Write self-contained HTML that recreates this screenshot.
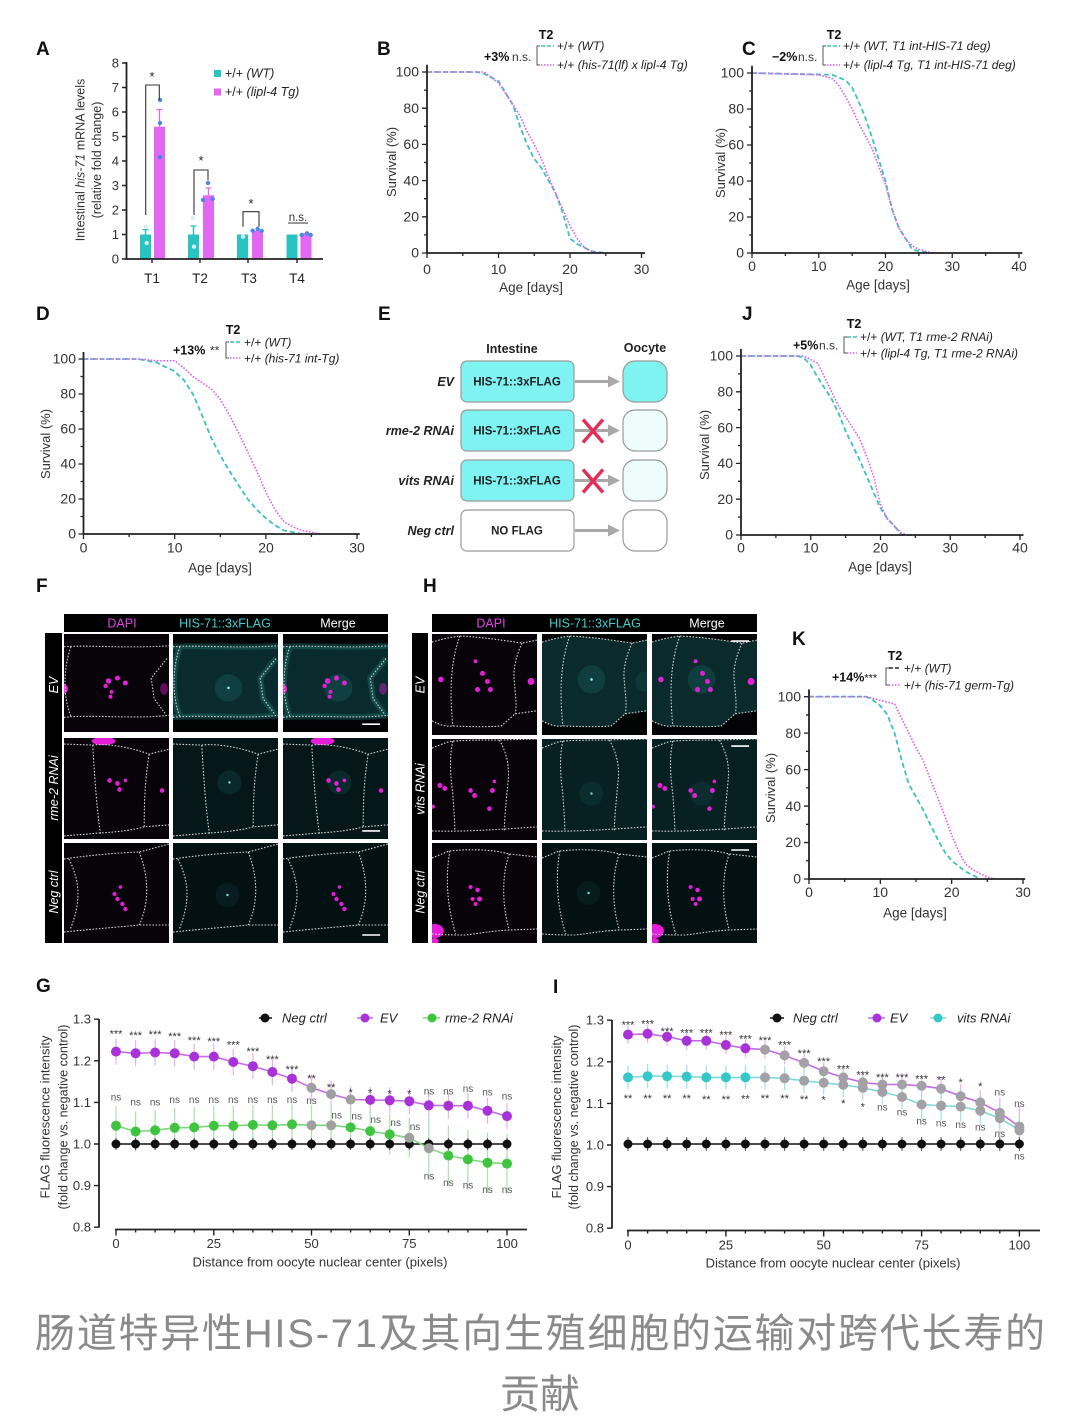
<!DOCTYPE html>
<html><head><meta charset="utf-8">
<style>
html,body{margin:0;padding:0;background:#fff;}
svg{display:block;}
.ol{fill:none;stroke:#d4d4d4;stroke-width:1.1;stroke-dasharray:1.6 1.6;}
.lbl{font-size:19px;font-weight:bold;fill:#111;}
</style></head><body>
<svg width="1080" height="1428" viewBox="0 0 1080 1428" xmlns="http://www.w3.org/2000/svg" xmlns:xlink="http://www.w3.org/1999/xlink" font-family="Liberation Sans, sans-serif">
<defs>
<path id="fEVb" d="M0,13 C25,11 60,15 106,12 L106,83 C70,87 30,82 0,85 Z"/>
<path id="fEVo" d="M0,13 C25,11 60,15 106,12 M0,85 C30,82 70,87 106,83 M7,13 C-1,35 -1,65 7,84 M104,25 L88,45 L91,66 L102,81"/>
<g id="fEVs"><circle cx="45" cy="48" r="2.8"/><circle cx="54" cy="45" r="2.5"/><circle cx="62" cy="50" r="2.5"/><circle cx="42" cy="53" r="2.2"/><circle cx="48" cy="59" r="2"/><circle cx="47" cy="64" r="2"/><ellipse cx="0" cy="56" rx="4" ry="5"/><ellipse cx="101" cy="56" rx="4" ry="6" opacity="0.4"/></g>
<path id="fRMo" d="M0,6 L29,7 C45,5 70,10 86,16 L106,11 M29,7 C31,40 33,70 37,96 M0,97 L37,94 C55,93 70,91 81,88 L106,86 M86,16 C82,40 81,60 81,88"/>
<g id="fRMs"><circle cx="46" cy="42" r="2.3"/><circle cx="54" cy="45" r="2.3"/><circle cx="62" cy="42" r="1.8"/><circle cx="56" cy="51" r="2.3"/><circle cx="99" cy="52" r="2.3"/><ellipse cx="40" cy="3" rx="12" ry="4"/></g>
<path id="fNGo" d="M0,16 C20,13 50,10 76,9 L106,1 M5,16 C17,40 17,60 6,87 M0,89 C30,86 55,84 76,82 L106,82 M76,9 C86,35 86,60 76,82"/>
<g id="fNGs"><circle cx="51" cy="51" r="2"/><circle cx="54" cy="56" r="2.2"/><circle cx="57" cy="44" r="1.8"/><circle cx="59" cy="61" r="2.2"/><circle cx="62" cy="66" r="2.2"/></g>
<path id="hEVb" d="M0,8 C10,5 20,3 28,2 C50,3 70,6 91,9 L106,6 L106,76 L84,79 L70,91 C60,92 40,92 21,91 C14,92 8,90 0,86 Z"/>
<path id="hEVo" d="M0,8 C10,5 20,3 28,2 C50,3 70,6 91,9 L106,6 M28,2 C20,25 17,50 21,91 M0,86 C8,90 14,92 21,91 C40,92 60,92 70,91 L84,79 L106,76 M91,9 C83,25 82,40 83,45 C84,60 86,70 84,79"/>
<g id="hEVs"><circle cx="44" cy="27" r="2"/><circle cx="51" cy="39" r="2.5"/><circle cx="56" cy="47" r="2.5"/><circle cx="46" cy="55" r="2.5"/><circle cx="59" cy="55" r="2.5"/><circle cx="9" cy="45" r="2.8"/><circle cx="100" cy="47" r="3.5"/></g>
<path id="hVTo" d="M0,9 C10,5 18,2 21,2 C40,1 55,1 68,1 L106,0 M21,2 C17,20 19,40 21,54 C22,70 23,80 23,91 M0,91 C30,92 60,90 106,87 M68,1 C76,15 78,27 77,40 C75,60 73,80 73,91"/>
<g id="hVTs"><circle cx="8" cy="46" r="2.5"/><circle cx="13" cy="49" r="2.5"/><circle cx="39" cy="51" r="2.3"/><circle cx="43" cy="56" r="2.5"/><circle cx="61" cy="51" r="2.5"/><circle cx="58" cy="69" r="2.3"/><circle cx="63" cy="42" r="1.8"/><circle cx="1" cy="67" r="2"/></g>
<path id="hNGo" d="M0,15 C8,12 14,9 18,8 C35,6 60,6 78,11 L106,14 M18,8 C14,30 14,60 24,91 M0,91 C15,92 24,92 34,92 C50,90 60,88 78,87 L106,86 M78,11 C71,30 70,60 78,87"/>
<g id="hNGs"><circle cx="39" cy="44" r="2"/><circle cx="46" cy="47" r="2.3"/><circle cx="48" cy="56" r="2.5"/><circle cx="44" cy="61" r="2"/><circle cx="41" cy="56" r="2"/><ellipse cx="3" cy="88" rx="9" ry="7"/><ellipse cx="2" cy="98" rx="5" ry="3"/></g>
</defs>

<!-- ================= A ================= -->
<text x="36" y="55" class="lbl">A</text>
<g fill="#27c4c1">
<rect x="140" y="234.5" width="11" height="24.5"/><rect x="188" y="234.5" width="11" height="24.5"/><rect x="237" y="234.5" width="11" height="24.5"/><rect x="286.5" y="234.5" width="11" height="24.5"/>
</g>
<g fill="#e267f2">
<rect x="154" y="126.7" width="11" height="132.3"/><rect x="203" y="195.3" width="11" height="63.7"/><rect x="252" y="230.8" width="11" height="28.2"/><rect x="300.5" y="233.3" width="11" height="25.7"/>
</g>
<path d="M159.5,126.7V109.5M156.5,109.5h6M208.5,195.3V188M205.5,188h6M145.5,234.5V229.6M193.5,234.5V226" stroke="#e267f2" stroke-width="1.3" fill="none"/>
<path d="M145.5,234.5V229.6M142.5,229.6h6M193.5,234.5V226M190.5,226h6" stroke="#27c4c1" stroke-width="1.3" fill="none"/>
<g fill="#4d86e8"><circle cx="160" cy="100" r="2.2"/><circle cx="160" cy="123" r="2.2"/><circle cx="160" cy="157" r="2.2"/><circle cx="203" cy="200" r="2.2"/><circle cx="208" cy="183" r="2.2"/><circle cx="212.7" cy="199" r="2.2"/><circle cx="252.7" cy="230.7" r="2.2"/><circle cx="257.7" cy="229" r="2.2"/><circle cx="261.7" cy="231" r="2.2"/><circle cx="301.7" cy="235" r="2.2"/><circle cx="307" cy="233.3" r="2.2"/><circle cx="310.7" cy="235" r="2.2"/></g>
<g fill="#d8eeee"><circle cx="145.7" cy="226.7" r="2.2"/><circle cx="146.7" cy="243" r="2.2"/><circle cx="193" cy="218" r="2.2"/><circle cx="194" cy="246.7" r="2.2"/><circle cx="243" cy="236.7" r="2.2"/></g>
<path d="M145.7,215V85H159.3V100M194,215V170H208V180M243,226.7V211.7H259V226.7M288,223H308" stroke="#333" stroke-width="1.1" fill="none"/>
<g font-size="13" text-anchor="middle" fill="#222"><text x="152" y="81">*</text><text x="201" y="165">*</text><text x="251" y="208">*</text></g>
<text x="298" y="221" font-size="11.5" text-anchor="middle" fill="#333">n.s.</text>
<path d="M126.5,62V259H323" stroke="#222" stroke-width="1.8" fill="none"/>
<path d="M122,259h4.5M122,234.5h4.5M122,210h4.5M122,185.5h4.5M122,161h4.5M122,136.5h4.5M122,112h4.5M122,87.5h4.5M122,63h4.5M152,259v4M200,259v4M248,259v4M297,259v4" stroke="#222" stroke-width="1.4"/>
<g font-size="13" text-anchor="end" fill="#333"><text x="119" y="263.5">0</text><text x="119" y="239">1</text><text x="119" y="214.5">2</text><text x="119" y="190">3</text><text x="119" y="165.5">4</text><text x="119" y="141">5</text><text x="119" y="116.5">6</text><text x="119" y="92">7</text><text x="119" y="67.5">8</text></g>
<g font-size="13.5" text-anchor="middle" fill="#222"><text x="152" y="283">T1</text><text x="200" y="283">T2</text><text x="249" y="283">T3</text><text x="297" y="283">T4</text></g>
<rect x="214" y="70" width="7" height="7" fill="#27c4c1"/><rect x="214" y="88.5" width="7" height="7" fill="#e267f2"/>
<text x="225" y="77.5" font-size="12.5" fill="#222">+/+ <tspan font-style="italic">(WT)</tspan></text>
<text x="225" y="96" font-size="12.5" fill="#222">+/+ <tspan font-style="italic">(lipl-4 Tg)</tspan></text>
<text transform="translate(84.5,160) rotate(-90)" font-size="12.5" text-anchor="middle" fill="#333">Intestinal <tspan font-style="italic">his-71</tspan> mRNA levels</text>
<text transform="translate(101,160) rotate(-90)" font-size="12.5" text-anchor="middle" fill="#333">(relative fold change)</text>

<!-- ================= B ================= -->
<text x="377" y="55" class="lbl">B</text>
<text x="546" y="39" font-size="12.5" font-weight="bold" text-anchor="middle" fill="#111">T2</text>
<text x="484" y="61" font-size="12.5" font-weight="bold" fill="#111">+3%</text>
<text x="512" y="61" font-size="12" fill="#333">n.s.</text>
<path d="M540,46H537V65H540" stroke="#555" fill="none" stroke-width="1"/>
<path d="M541,46H554" stroke="#3cc3bf" stroke-dasharray="4 2" stroke-width="1.6"/>
<path d="M541,65H554" stroke="#dc5ef0" stroke-dasharray="1.5 1.5" stroke-width="1.6"/>
<text x="557" y="50" font-size="12" fill="#222">+/+ <tspan font-style="italic">(WT)</tspan></text>
<text x="557" y="69" font-size="12" fill="#222">+/+ <tspan font-style="italic">(his-71(lf) x lipl-4 Tg)</tspan></text>
<g transform="translate(427,253) scale(7.15,-1.81)" fill="none">
<polyline vector-effect="non-scaling-stroke" stroke="#3cc3bf" stroke-width="1.8" stroke-dasharray="5 3" points="0,100 7,100 8,99 10,95 12,82 13,70 14,60 15,52 16,47 17,40 18,33 19,22 20,8 21,5 22,3 23,1 24,0.5 25,0"/>
<polyline vector-effect="non-scaling-stroke" stroke="#dc5ef0" stroke-width="1.6" stroke-dasharray="1.6 1.6" points="0,100 8,100 10,94 12,82 13,76 14,67 15,60 16,52 17,42 18,33 19,24 20,15 21,8 22,3 23,1 24,0"/>
<path vector-effect="non-scaling-stroke" stroke="#222" stroke-width="1.8" d="M0,104V0H30.5"/>
<path vector-effect="non-scaling-stroke" stroke="#222" stroke-width="1.3" d="M0,0h-0.7M0,20h-0.7M0,40h-0.7M0,60h-0.7M0,80h-0.7M0,100h-0.7M0,10h-0.42M0,30h-0.42M0,50h-0.42M0,70h-0.42M0,90h-0.42M0,0v-2.76M10,0v-2.76M20,0v-2.76M30,0v-2.76M5,0v-1.66M15,0v-1.66M25,0v-1.66"/>
</g>
<g font-size="14" text-anchor="end" fill="#333"><text x="419" y="257.7">0</text><text x="419" y="221.5">20</text><text x="419" y="185.3">40</text><text x="419" y="149.1">60</text><text x="419" y="112.9">80</text><text x="419" y="76.7">100</text></g>
<g font-size="14" text-anchor="middle" fill="#333"><text x="427" y="274">0</text><text x="498.5" y="274">10</text><text x="570" y="274">20</text><text x="641.5" y="274">30</text></g>
<text x="531" y="292" font-size="13.5" text-anchor="middle" fill="#333">Age [days]</text>
<text transform="translate(396,162) rotate(-90)" font-size="13" text-anchor="middle" fill="#333">Survival (%)</text>

<!-- ================= C ================= -->
<text x="742" y="55" class="lbl">C</text>
<text x="834" y="39" font-size="12.5" font-weight="bold" text-anchor="middle" fill="#111">T2</text>
<text x="772" y="61" font-size="12.5" font-weight="bold" fill="#111">−2%</text>
<text x="798" y="61" font-size="12" fill="#333">n.s.</text>
<path d="M826,46H823V65H826" stroke="#555" fill="none" stroke-width="1"/>
<path d="M827,46H840" stroke="#3cc3bf" stroke-dasharray="4 2" stroke-width="1.6"/>
<path d="M827,65H840" stroke="#dc5ef0" stroke-dasharray="1.5 1.5" stroke-width="1.6"/>
<text x="843" y="50" font-size="12" fill="#222">+/+ <tspan font-style="italic">(WT, T1 int-HIS-71 deg)</tspan></text>
<text x="843" y="69" font-size="12" fill="#222">+/+ <tspan font-style="italic">(lipl-4 Tg, T1 int-HIS-71 deg)</tspan></text>
<g transform="translate(752,253) scale(6.675,-1.8)" fill="none">
<polyline vector-effect="non-scaling-stroke" stroke="#3cc3bf" stroke-width="1.8" stroke-dasharray="5 3" points="0,100 12,99 14,96 15,92 16,84 17,75 18,64 19,52 20,40 21,24 22,14 23,8 24,2 25,1 27,0"/>
<polyline vector-effect="non-scaling-stroke" stroke="#dc5ef0" stroke-width="1.6" stroke-dasharray="1.6 1.6" points="0,100 10,99 12,97 13,93 14,87 15,80 16,72 17,65 18,58 19,48 20,38 21,24 22,14 23,8 24,4 25,2 27,0 28,0"/>
<path vector-effect="non-scaling-stroke" stroke="#222" stroke-width="1.8" d="M0,104V0H40.5"/>
<path vector-effect="non-scaling-stroke" stroke="#222" stroke-width="1.3" d="M0,0h-0.75M0,20h-0.75M0,40h-0.75M0,60h-0.75M0,80h-0.75M0,100h-0.75M0,10h-0.45M0,30h-0.45M0,50h-0.45M0,70h-0.45M0,90h-0.45M0,0v-2.78M10,0v-2.78M20,0v-2.78M30,0v-2.78M40,0v-2.78M5,0v-1.67M15,0v-1.67M25,0v-1.67M35,0v-1.67"/>
</g>
<g font-size="14" text-anchor="end" fill="#333"><text x="744" y="257.7">0</text><text x="744" y="221.7">20</text><text x="744" y="185.7">40</text><text x="744" y="149.7">60</text><text x="744" y="113.7">80</text><text x="744" y="77.7">100</text></g>
<g font-size="14" text-anchor="middle" fill="#333"><text x="752" y="271">0</text><text x="818.8" y="271">10</text><text x="885.5" y="271">20</text><text x="952.3" y="271">30</text><text x="1019" y="271">40</text></g>
<text x="878" y="289.5" font-size="13.5" text-anchor="middle" fill="#333">Age [days]</text>
<text transform="translate(725,163) rotate(-90)" font-size="13" text-anchor="middle" fill="#333">Survival (%)</text>

<!-- ================= D ================= -->
<text x="36" y="320" class="lbl">D</text>
<text x="233" y="334" font-size="12.5" font-weight="bold" text-anchor="middle" fill="#111">T2</text>
<text x="173" y="354.5" font-size="12.5" font-weight="bold" fill="#111">+13%</text>
<text x="210" y="354.5" font-size="12" fill="#333">**</text>
<path d="M229,342H226V358H229" stroke="#555" fill="none" stroke-width="1"/>
<path d="M230,342H242" stroke="#3cc3bf" stroke-dasharray="4 2" stroke-width="1.6"/>
<path d="M230,358H242" stroke="#dc5ef0" stroke-dasharray="1.5 1.5" stroke-width="1.6"/>
<text x="244" y="346.5" font-size="12" fill="#222">+/+ <tspan font-style="italic">(WT)</tspan></text>
<text x="244" y="362.5" font-size="12" fill="#222">+/+ <tspan font-style="italic">(his-71 int-Tg)</tspan></text>
<g transform="translate(83.5,534) scale(9.117,-1.75)" fill="none">
<polyline vector-effect="non-scaling-stroke" stroke="#3cc3bf" stroke-width="1.8" stroke-dasharray="5 3" points="0,100 6,100 8,98 10,93 11,88 12,80 13,68 14,55 15,45 16,36 17,28 18,20 19,14 20,9 21,5 22,2 23,1 24,0 25,0"/>
<polyline vector-effect="non-scaling-stroke" stroke="#dc5ef0" stroke-width="1.6" stroke-dasharray="1.6 1.6" points="0,100 6,100 8,99 10,99 11,95 12,90 14,83 15,77 16,68 17,58 18,47 19,36 20,24 21,14 22,7 23,4 24,2 25,1 26,0"/>
<path vector-effect="non-scaling-stroke" stroke="#222" stroke-width="1.8" d="M0,104V0H30.3"/>
<path vector-effect="non-scaling-stroke" stroke="#222" stroke-width="1.3" d="M0,0h-0.55M0,20h-0.55M0,40h-0.55M0,60h-0.55M0,80h-0.55M0,100h-0.55M0,10h-0.33M0,30h-0.33M0,50h-0.33M0,70h-0.33M0,90h-0.33M0,0v-2.86M10,0v-2.86M20,0v-2.86M30,0v-2.86M5,0v-1.71M15,0v-1.71M25,0v-1.71"/>
</g>
<g font-size="14" text-anchor="end" fill="#333"><text x="76" y="538.7">0</text><text x="76" y="503.7">20</text><text x="76" y="468.7">40</text><text x="76" y="433.7">60</text><text x="76" y="398.7">80</text><text x="76" y="363.7">100</text></g>
<g font-size="14" text-anchor="middle" fill="#333"><text x="83.5" y="552.5">0</text><text x="174.7" y="552.5">10</text><text x="266" y="552.5">20</text><text x="357" y="552.5">30</text></g>
<text x="220" y="572.5" font-size="13.5" text-anchor="middle" fill="#333">Age [days]</text>
<text transform="translate(50,444) rotate(-90)" font-size="13" text-anchor="middle" fill="#333">Survival (%)</text>

<!-- ================= E ================= -->
<text x="378" y="320" class="lbl">E</text>
<text x="512" y="353" font-size="12.5" font-weight="bold" text-anchor="middle" fill="#222">Intestine</text>
<text x="645" y="352" font-size="12.5" font-weight="bold" text-anchor="middle" fill="#222">Oocyte</text>
<g stroke="#9a9a9a" stroke-width="1.2">
<rect x="461" y="361" width="113" height="41" rx="6" fill="#7ff2f2"/>
<rect x="461" y="410" width="113" height="41" rx="6" fill="#7ff2f2"/>
<rect x="461" y="460" width="113" height="41" rx="6" fill="#7ff2f2"/>
<rect x="461" y="510" width="113" height="41" rx="6" fill="#fff"/>
<rect x="623" y="361" width="44" height="41" rx="12" fill="#7ff2f2"/>
<rect x="623" y="410" width="44" height="41" rx="12" fill="#effcfc"/>
<rect x="623" y="460" width="44" height="41" rx="12" fill="#effcfc"/>
<rect x="623" y="510" width="44" height="41" rx="12" fill="#fff"/>
</g>
<g font-size="11.5" font-weight="bold" text-anchor="middle" fill="#222">
<text x="517" y="385.5">HIS-71::3xFLAG</text><text x="517" y="434.5">HIS-71::3xFLAG</text><text x="517" y="484.5">HIS-71::3xFLAG</text><text x="517" y="534.5">NO FLAG</text>
</g>
<path d="M575,381.5H610M575,430.5H610M575,480.5H610M575,530.5H610" stroke="#a8a8a8" stroke-width="3"/>
<g fill="#a8a8a8"><path d="M608,375.5L620,381.5L608,387.5Z"/><path d="M608,424.5L620,430.5L608,436.5Z"/><path d="M608,474.5L620,480.5L608,486.5Z"/><path d="M608,524.5L620,530.5L608,536.5Z"/></g>
<path d="M583,419.5L603,442.5M603,419.5L583,442.5M583,469.5L603,492.5M603,469.5L583,492.5" stroke="#e0305a" stroke-width="3.5"/>
<g font-size="12.5" font-weight="bold" font-style="italic" text-anchor="end" fill="#222">
<text x="454" y="386">EV</text><text x="454" y="435">rme-2 RNAi</text><text x="454" y="485">vits RNAi</text><text x="454" y="535">Neg ctrl</text>
</g>

<!-- ================= J ================= -->
<text x="742" y="320" class="lbl">J</text>
<text x="854" y="328" font-size="12.5" font-weight="bold" text-anchor="middle" fill="#111">T2</text>
<text x="793" y="349.5" font-size="12.5" font-weight="bold" fill="#111">+5%</text>
<text x="819" y="349.5" font-size="12" fill="#333">n.s.</text>
<path d="M847,337H844V353H847" stroke="#555" fill="none" stroke-width="1"/>
<path d="M847,337H857" stroke="#3cc3bf" stroke-dasharray="4 2" stroke-width="1.6"/>
<path d="M847,353H857" stroke="#dc5ef0" stroke-dasharray="1.5 1.5" stroke-width="1.6"/>
<text x="860" y="341" font-size="12" fill="#222">+/+ <tspan font-style="italic">(WT, T1 rme-2 RNAi)</tspan></text>
<text x="860" y="357.5" font-size="12" fill="#222">+/+ <tspan font-style="italic">(lipl-4 Tg, T1 rme-2 RNAi)</tspan></text>
<g transform="translate(741,535) scale(6.975,-1.79)" fill="none">
<polyline vector-effect="non-scaling-stroke" stroke="#3cc3bf" stroke-width="1.8" stroke-dasharray="5 3" points="0,100 8,100 9,99 10,95 11,88 12,82 13,76 14,68 15,58 16,50 17,42 18,33 19,24 20,15 21,9 22,5 23,0 25,0"/>
<polyline vector-effect="non-scaling-stroke" stroke="#dc5ef0" stroke-width="1.6" stroke-dasharray="1.6 1.6" points="0,100 9,100 10,98 11,96 12,88 13,80 14,72 15,66 16,60 17,54 18,44 19,33 20,17 21,9 22,5 23,1 24,0"/>
<path vector-effect="non-scaling-stroke" stroke="#222" stroke-width="1.8" d="M0,104V0H40.5"/>
<path vector-effect="non-scaling-stroke" stroke="#222" stroke-width="1.3" d="M0,0h-0.72M0,20h-0.72M0,40h-0.72M0,60h-0.72M0,80h-0.72M0,100h-0.72M0,10h-0.43M0,30h-0.43M0,50h-0.43M0,70h-0.43M0,90h-0.43M0,0v-2.79M10,0v-2.79M20,0v-2.79M30,0v-2.79M40,0v-2.79M5,0v-1.68M15,0v-1.68M25,0v-1.68M35,0v-1.68"/>
</g>
<g font-size="14" text-anchor="end" fill="#333"><text x="733" y="539.7">0</text><text x="733" y="503.9">20</text><text x="733" y="468.1">40</text><text x="733" y="432.3">60</text><text x="733" y="396.5">80</text><text x="733" y="360.7">100</text></g>
<g font-size="14" text-anchor="middle" fill="#333"><text x="741" y="552.5">0</text><text x="810.8" y="552.5">10</text><text x="880.5" y="552.5">20</text><text x="950.3" y="552.5">30</text><text x="1020" y="552.5">40</text></g>
<text x="880" y="571.5" font-size="13.5" text-anchor="middle" fill="#333">Age [days]</text>
<text transform="translate(709,445) rotate(-90)" font-size="13" text-anchor="middle" fill="#333">Survival (%)</text>

<!-- ================= F ================= -->
<text x="36" y="592" class="lbl">F</text>
<rect x="64" y="614" width="324" height="18" fill="#000"/>
<g font-size="12.5" text-anchor="middle"><text x="122" y="627.5" fill="#e040e8">DAPI</text><text x="225" y="627.5" fill="#3fd0cc">HIS-71::3xFLAG</text><text x="338" y="627.5" fill="#fff">Merge</text></g>
<rect x="45" y="633" width="17" height="310" fill="#000"/>
<g font-size="12.5" font-style="italic" text-anchor="middle" fill="#fff">
<text transform="translate(58,685) rotate(-90)">EV</text>
<text transform="translate(58,788) rotate(-90)">rme-2 RNAi</text>
<text transform="translate(58,892) rotate(-90)">Neg ctrl</text>
</g>
<!-- F row EV -->
<svg x="64" y="634" width="105" height="98" viewBox="0 0 106 100" preserveAspectRatio="none"><rect width="106" height="100" fill="#070309"/><use xlink:href="#fEVs" fill="#e51fd9"/><use xlink:href="#fEVo" class="ol"/></svg>
<svg x="173" y="634" width="105" height="98" viewBox="0 0 106 100" preserveAspectRatio="none"><rect width="106" height="100" fill="#020404"/><use xlink:href="#fEVb" fill="#0a2b2d"/><use xlink:href="#fEVo" fill="none" stroke="#1a6e6a" stroke-width="6" opacity="0.45"/><circle cx="56" cy="55" r="14" fill="#0f3f40"/><circle cx="56" cy="55" r="1.3" fill="#8ee"/><use xlink:href="#fEVo" class="ol"/></svg>
<svg x="283" y="634" width="105" height="98" viewBox="0 0 106 100" preserveAspectRatio="none"><rect width="106" height="100" fill="#030305"/><use xlink:href="#fEVb" fill="#0a2b2d"/><use xlink:href="#fEVo" fill="none" stroke="#1a6e6a" stroke-width="6" opacity="0.45"/><circle cx="56" cy="55" r="14" fill="#0f3f40"/><use xlink:href="#fEVs" fill="#e51fd9"/><use xlink:href="#fEVo" class="ol"/><path d="M80,92H98" stroke="#fff" stroke-width="1.6"/></svg>
<!-- F row rme-2 -->
<svg x="64" y="738" width="105" height="101" viewBox="0 0 106 100" preserveAspectRatio="none"><rect width="106" height="100" fill="#070309"/><use xlink:href="#fRMs" fill="#e51fd9"/><use xlink:href="#fRMo" class="ol"/></svg>
<svg x="173" y="738" width="105" height="101" viewBox="0 0 106 100" preserveAspectRatio="none"><rect width="106" height="100" fill="#061719"/><circle cx="57" cy="44" r="12" fill="#0a292a"/><circle cx="57" cy="44" r="1.2" fill="#8dd"/><use xlink:href="#fRMo" class="ol"/></svg>
<svg x="283" y="738" width="105" height="101" viewBox="0 0 106 100" preserveAspectRatio="none"><rect width="106" height="100" fill="#061719"/><circle cx="57" cy="44" r="12" fill="#0a292a"/><use xlink:href="#fRMs" fill="#e51fd9"/><use xlink:href="#fRMo" class="ol"/><path d="M80,92H98" stroke="#fff" stroke-width="1.6"/></svg>
<!-- F row neg -->
<svg x="64" y="843" width="105" height="100" viewBox="0 0 106 100" preserveAspectRatio="none"><rect width="106" height="100" fill="#070309"/><use xlink:href="#fNGs" fill="#e51fd9"/><use xlink:href="#fNGo" class="ol"/></svg>
<svg x="173" y="843" width="105" height="100" viewBox="0 0 106 100" preserveAspectRatio="none"><rect width="106" height="100" fill="#041113"/><circle cx="55" cy="52" r="12" fill="#071d1f"/><circle cx="55" cy="52" r="1.2" fill="#8dd"/><use xlink:href="#fNGo" class="ol"/></svg>
<svg x="283" y="843" width="105" height="100" viewBox="0 0 106 100" preserveAspectRatio="none"><rect width="106" height="100" fill="#041113"/><use xlink:href="#fNGs" fill="#e51fd9"/><use xlink:href="#fNGo" class="ol"/><path d="M80,92H98" stroke="#fff" stroke-width="1.6"/></svg>

<!-- ================= H ================= -->
<text x="423" y="592" class="lbl">H</text>
<rect x="432" y="614" width="325" height="18" fill="#000"/>
<g font-size="12.5" text-anchor="middle"><text x="491" y="627.5" fill="#e040e8">DAPI</text><text x="595" y="627.5" fill="#3fd0cc">HIS-71::3xFLAG</text><text x="707" y="627.5" fill="#fff">Merge</text></g>
<rect x="412" y="633" width="16" height="310" fill="#000"/>
<g font-size="12.5" font-style="italic" text-anchor="middle" fill="#fff">
<text transform="translate(424.5,685) rotate(-90)">EV</text>
<text transform="translate(424.5,789) rotate(-90)">vits RNAi</text>
<text transform="translate(424.5,892) rotate(-90)">Neg ctrl</text>
</g>
<!-- H row EV -->
<svg x="432" y="634" width="105" height="101" viewBox="0 0 106 100" preserveAspectRatio="none"><rect width="106" height="100" fill="#070309"/><use xlink:href="#hEVs" fill="#e51fd9"/><use xlink:href="#hEVo" class="ol"/></svg>
<svg x="542" y="634" width="105" height="101" viewBox="0 0 106 100" preserveAspectRatio="none"><rect width="106" height="100" fill="#020404"/><use xlink:href="#hEVb" fill="#0a2a2c"/><circle cx="50" cy="45" r="14" fill="#0f3e3f"/><circle cx="50" cy="45" r="1.3" fill="#8ee"/><circle cx="104" cy="47" r="10" fill="#0e3738"/><use xlink:href="#hEVo" class="ol"/></svg>
<svg x="652" y="634" width="105" height="101" viewBox="0 0 106 100" preserveAspectRatio="none"><rect width="106" height="100" fill="#030305"/><use xlink:href="#hEVb" fill="#0a2a2c"/><circle cx="50" cy="45" r="14" fill="#0f3e3f"/><use xlink:href="#hEVs" fill="#e51fd9"/><use xlink:href="#hEVo" class="ol"/><path d="M80,7H98" stroke="#fff" stroke-width="1.6"/></svg>
<!-- H row vits -->
<svg x="432" y="739" width="105" height="101" viewBox="0 0 106 100" preserveAspectRatio="none"><rect width="106" height="100" fill="#070309"/><use xlink:href="#hVTs" fill="#e51fd9"/><use xlink:href="#hVTo" class="ol"/></svg>
<svg x="542" y="739" width="105" height="101" viewBox="0 0 106 100" preserveAspectRatio="none"><rect width="106" height="100" fill="#072022"/><circle cx="50" cy="54" r="12" fill="#0b2d2e"/><circle cx="50" cy="54" r="1.2" fill="#8dd"/><use xlink:href="#hVTo" class="ol"/></svg>
<svg x="652" y="739" width="105" height="101" viewBox="0 0 106 100" preserveAspectRatio="none"><rect width="106" height="100" fill="#072022"/><circle cx="50" cy="54" r="12" fill="#0b2d2e"/><use xlink:href="#hVTs" fill="#e51fd9"/><use xlink:href="#hVTo" class="ol"/><path d="M80,7H98" stroke="#fff" stroke-width="1.6"/></svg>
<!-- H row neg -->
<svg x="432" y="843" width="105" height="100" viewBox="0 0 106 100" preserveAspectRatio="none"><rect width="106" height="100" fill="#070309"/><use xlink:href="#hNGs" fill="#e51fd9"/><use xlink:href="#hNGo" class="ol"/></svg>
<svg x="542" y="843" width="105" height="100" viewBox="0 0 106 100" preserveAspectRatio="none"><rect width="106" height="100" fill="#041113"/><circle cx="47" cy="50" r="12" fill="#071c1d"/><circle cx="47" cy="50" r="1.2" fill="#8dd"/><use xlink:href="#hNGo" class="ol"/></svg>
<svg x="652" y="843" width="105" height="100" viewBox="0 0 106 100" preserveAspectRatio="none"><rect width="106" height="100" fill="#041113"/><use xlink:href="#hNGs" fill="#e51fd9"/><use xlink:href="#hNGo" class="ol"/><path d="M80,7H98" stroke="#fff" stroke-width="1.6"/></svg>

<!-- ================= K ================= -->
<text x="792" y="645" class="lbl">K</text>
<text x="895" y="660" font-size="12.5" font-weight="bold" text-anchor="middle" fill="#111">T2</text>
<text x="832" y="681.5" font-size="12.5" font-weight="bold" fill="#111">+14%<tspan font-weight="normal" font-size="11">***</tspan></text>
<path d="M889,668H886V685H889" stroke="#555" fill="none" stroke-width="1"/>
<path d="M889,668H901" stroke="#222" stroke-dasharray="4 2" stroke-width="1.6"/>
<path d="M889,685H901" stroke="#dc5ef0" stroke-dasharray="1.5 1.5" stroke-width="1.6"/>
<text x="904" y="672.5" font-size="12" fill="#222">+/+ <tspan font-style="italic">(WT)</tspan></text>
<text x="904" y="689.5" font-size="12" fill="#222">+/+ <tspan font-style="italic">(his-71 germ-Tg)</tspan></text>
<g transform="translate(809,879) scale(7.133,-1.823)" fill="none">
<polyline vector-effect="non-scaling-stroke" stroke="#3cc3bf" stroke-width="1.8" stroke-dasharray="5 3" points="0,100 8,100 9,98 10,95 11,90 12,80 13,65 14,52 15,45 16,38 17,30 18,22 19,15 20,10 21,7 22,4 23,2 24,0"/>
<polyline vector-effect="non-scaling-stroke" stroke="#dc5ef0" stroke-width="1.6" stroke-dasharray="1.6 1.6" points="0,100 8,100 10,98 12,96 13,88 14,80 15,72 16,65 17,55 18,45 19,35 20,24 21,15 22,8 23,5 24,3 25,1 26,0"/>
<path vector-effect="non-scaling-stroke" stroke="#222" stroke-width="1.8" d="M0,104V0H30.3"/>
<path vector-effect="non-scaling-stroke" stroke="#222" stroke-width="1.3" d="M0,0h-0.7M0,20h-0.7M0,40h-0.7M0,60h-0.7M0,80h-0.7M0,100h-0.7M0,10h-0.42M0,30h-0.42M0,50h-0.42M0,70h-0.42M0,90h-0.42M0,0v-2.74M10,0v-2.74M20,0v-2.74M30,0v-2.74M5,0v-1.65M15,0v-1.65M25,0v-1.65"/>
</g>
<g font-size="14" text-anchor="end" fill="#333"><text x="801" y="883.7">0</text><text x="801" y="847.2">20</text><text x="801" y="810.8">40</text><text x="801" y="774.3">60</text><text x="801" y="737.9">80</text><text x="801" y="701.4">100</text></g>
<g font-size="14" text-anchor="middle" fill="#333"><text x="809" y="897">0</text><text x="880.3" y="897">10</text><text x="951.7" y="897">20</text><text x="1023" y="897">30</text></g>
<text x="915" y="917.5" font-size="13.5" text-anchor="middle" fill="#333">Age [days]</text>
<text transform="translate(775,788) rotate(-90)" font-size="13" text-anchor="middle" fill="#333">Survival (%)</text>

<!-- ================= G ================= -->
<text x="36" y="992" class="lbl">G</text>
<path d="M99,1019V1227.5M115,1229.5H527" stroke="#222" stroke-width="1.8" fill="none"/>
<path d="M94,1019.2h5M94,1060.8h5M94,1102.4h5M94,1144h5M94,1185.6h5M94,1227.2h5M116,1229.5v6M213.8,1229.5v6M311.5,1229.5v6M409.3,1229.5v6M507,1229.5v6M135.6,1229.5v3M155.1,1229.5v3M174.7,1229.5v3M194.2,1229.5v3M233.3,1229.5v3M252.9,1229.5v3M272.4,1229.5v3M292,1229.5v3M331.1,1229.5v3M350.6,1229.5v3M370.2,1229.5v3M389.7,1229.5v3M428.8,1229.5v3M448.4,1229.5v3M467.9,1229.5v3M487.5,1229.5v3" stroke="#222" stroke-width="1.4"/>
<g font-size="13" text-anchor="end" fill="#333"><text x="91" y="1023.7">1.3</text><text x="91" y="1065.3">1.2</text><text x="91" y="1106.9">1.1</text><text x="91" y="1148.5">1.0</text><text x="91" y="1190.1">0.9</text><text x="91" y="1231.7">0.8</text></g>
<g font-size="13" text-anchor="middle" fill="#333"><text x="116" y="1248">0</text><text x="213.8" y="1248">25</text><text x="311.5" y="1248">50</text><text x="409.3" y="1248">75</text><text x="507" y="1248">100</text></g>
<text x="320" y="1266.5" font-size="13" text-anchor="middle" fill="#333" textLength="255" lengthAdjust="spacingAndGlyphs">Distance from oocyte nuclear center (pixels)</text>
<text transform="translate(49.5,1117) rotate(-90)" font-size="12.5" text-anchor="middle" fill="#333" textLength="163" lengthAdjust="spacingAndGlyphs">FLAG fluorescence intensity</text>
<text transform="translate(67.5,1117) rotate(-90)" font-size="12.5" text-anchor="middle" fill="#333" textLength="185" lengthAdjust="spacingAndGlyphs">(fold change vs. negative control)</text>
<!-- legend G -->
<path d="M259,1018H272" stroke="#111" stroke-width="1.5"/><circle cx="265" cy="1018" r="4.5" fill="#111"/>
<text x="282" y="1022.5" font-size="13" font-style="italic" fill="#222">Neg ctrl</text>
<path d="M357,1018H373" stroke="#c46ae6" stroke-width="1.5"/><circle cx="365" cy="1018" r="4.5" fill="#a832d8"/>
<text x="380" y="1022.5" font-size="13" font-style="italic" fill="#222">EV</text>
<path d="M423,1018H440" stroke="#7fd67f" stroke-width="1.5"/><circle cx="432" cy="1018" r="4.5" fill="#3ec43e"/>
<text x="445" y="1022.5" font-size="13" font-style="italic" fill="#222">rme-2 RNAi</text>
<!-- error bars G -->
<path d="M116,1038.6V1064.6M135.6,1040.3V1066.3M155.1,1039.5V1065.5M174.7,1040.3V1066.3M194.2,1043.6V1069.6M213.8,1043.6V1069.6M233.3,1049V1075M252.9,1053.2V1079.2M272.4,1059V1085M292,1065.7V1091.7M311.5,1074.8V1100.8M331.1,1081.1V1107.1M350.6,1086.5V1112.5M370.2,1086.9V1112.9M389.7,1087.3V1113.3M409.3,1088.2V1114.2M428.8,1092.3V1118.3M448.4,1092.7V1118.7M467.9,1092.7V1118.7M487.5,1097.7V1123.7M507,1103.1V1129.1" stroke="#e6b0ef" stroke-width="1.2"/>
<path d="M116,1105.7V1145.7M135.6,1111.5V1151.5M155.1,1110.3V1150.3M174.7,1107.8V1147.8M194.2,1107.4V1147.4M213.8,1105.7V1145.7M233.3,1105.7V1145.7M252.9,1104.9V1144.9M272.4,1105.3V1145.3M292,1104.4V1144.4M311.5,1105.3V1145.3M331.1,1105.3V1145.3M350.6,1107.4V1147.4M370.2,1111.1V1151.1M389.7,1114.4V1154.4M409.3,1117.8V1157.8M428.8,1118.2V1178.2M448.4,1125.6V1185.6M467.9,1129.4V1189.4M487.5,1132.7V1192.7M507,1133.6V1193.6" stroke="#a8e2a8" stroke-width="1.2"/>
<path d="M116,1138V1150M135.6,1138V1150M155.1,1138V1150M174.7,1138V1150M194.2,1138V1150M213.8,1138V1150M233.3,1138V1150M252.9,1138V1150M272.4,1138V1150M292,1138V1150M311.5,1138V1150M331.1,1138V1150M350.6,1138V1150M370.2,1138V1150M389.7,1138V1150M409.3,1138V1150M428.8,1138V1150M448.4,1138V1150M467.9,1138V1150M487.5,1138V1150M507,1138V1150" stroke="#555" stroke-width="1"/>
<!-- lines G -->
<path d="M116,1144H507" stroke="#111" stroke-width="1.5"/>
<polyline fill="none" stroke="#c46ae6" stroke-width="1.6" points="116,1051.6 135.6,1053.3 155.1,1052.5 174.7,1053.3 194.2,1056.6 213.8,1056.6 233.3,1062 252.9,1066.2 272.4,1072 292,1078.7 311.5,1087.8 331.1,1094.1 350.6,1099.5 370.2,1099.9 389.7,1100.3 409.3,1101.2 428.8,1105.3 448.4,1105.7 467.9,1105.7 487.5,1110.7 507,1116.1"/>
<polyline fill="none" stroke="#7fd67f" stroke-width="1.6" points="116,1125.7 135.6,1131.5 155.1,1130.3 174.7,1127.8 194.2,1127.4 213.8,1125.7 233.3,1125.7 252.9,1124.9 272.4,1125.3 292,1124.4 311.5,1125.3 331.1,1125.3 350.6,1127.4 370.2,1131.1 389.7,1134.4 409.3,1137.8 428.8,1148.2 448.4,1155.6 467.9,1159.4 487.5,1162.7 507,1163.6"/>
<!-- markers G -->
<g fill="#111"><circle cx="116" cy="1144" r="4.5"/><circle cx="135.6" cy="1144" r="4.5"/><circle cx="155.1" cy="1144" r="4.5"/><circle cx="174.7" cy="1144" r="4.5"/><circle cx="194.2" cy="1144" r="4.5"/><circle cx="213.8" cy="1144" r="4.5"/><circle cx="233.3" cy="1144" r="4.5"/><circle cx="252.9" cy="1144" r="4.5"/><circle cx="272.4" cy="1144" r="4.5"/><circle cx="292" cy="1144" r="4.5"/><circle cx="311.5" cy="1144" r="4.5"/><circle cx="331.1" cy="1144" r="4.5"/><circle cx="350.6" cy="1144" r="4.5"/><circle cx="370.2" cy="1144" r="4.5"/><circle cx="389.7" cy="1144" r="4.5"/><circle cx="409.3" cy="1144" r="4.5"/><circle cx="428.8" cy="1144" r="4.5"/><circle cx="448.4" cy="1144" r="4.5"/><circle cx="467.9" cy="1144" r="4.5"/><circle cx="487.5" cy="1144" r="4.5"/><circle cx="507" cy="1144" r="4.5"/></g>
<g fill="#a832d8"><circle cx="116" cy="1051.6" r="5"/><circle cx="135.6" cy="1053.3" r="5"/><circle cx="155.1" cy="1052.5" r="5"/><circle cx="174.7" cy="1053.3" r="5"/><circle cx="194.2" cy="1056.6" r="5"/><circle cx="213.8" cy="1056.6" r="5"/><circle cx="233.3" cy="1062" r="5"/><circle cx="252.9" cy="1066.2" r="5"/><circle cx="272.4" cy="1072" r="5"/><circle cx="292" cy="1078.7" r="5"/><circle cx="370.2" cy="1099.9" r="5"/><circle cx="389.7" cy="1100.3" r="5"/><circle cx="409.3" cy="1101.2" r="5"/><circle cx="428.8" cy="1105.3" r="5"/><circle cx="448.4" cy="1105.7" r="5"/><circle cx="467.9" cy="1105.7" r="5"/><circle cx="487.5" cy="1110.7" r="5"/><circle cx="507" cy="1116.1" r="5"/></g>
<g fill="#3ec43e"><circle cx="116" cy="1125.7" r="5"/><circle cx="135.6" cy="1131.5" r="5"/><circle cx="155.1" cy="1130.3" r="5"/><circle cx="174.7" cy="1127.8" r="5"/><circle cx="194.2" cy="1127.4" r="5"/><circle cx="213.8" cy="1125.7" r="5"/><circle cx="233.3" cy="1125.7" r="5"/><circle cx="252.9" cy="1124.9" r="5"/><circle cx="272.4" cy="1125.3" r="5"/><circle cx="292" cy="1124.4" r="5"/><circle cx="350.6" cy="1127.4" r="5"/><circle cx="370.2" cy="1131.1" r="5"/><circle cx="389.7" cy="1134.4" r="5"/><circle cx="448.4" cy="1155.6" r="5"/><circle cx="467.9" cy="1159.4" r="5"/><circle cx="487.5" cy="1162.7" r="5"/><circle cx="507" cy="1163.6" r="5"/></g>
<g fill="#a0a0a0"><circle cx="311.5" cy="1087.8" r="5"/><circle cx="331.1" cy="1094.1" r="5"/><circle cx="350.6" cy="1099.5" r="5"/><circle cx="311.5" cy="1125.3" r="5"/><circle cx="331.1" cy="1125.3" r="5"/><circle cx="409.3" cy="1137.8" r="5"/><circle cx="428.8" cy="1148.2" r="5"/></g>
<!-- sig G -->
<g font-size="11" text-anchor="middle" fill="#333">
<text x="116" y="1037.7">***</text><text x="135.6" y="1039">***</text><text x="155.1" y="1038">***</text><text x="174.7" y="1040">***</text><text x="194.2" y="1044">***</text><text x="213.8" y="1045">***</text><text x="233.3" y="1048.7">***</text><text x="252.9" y="1055">***</text><text x="272.4" y="1063">***</text><text x="292" y="1073">***</text><text x="311.5" y="1082">**</text><text x="331.1" y="1091">**</text><text x="350.6" y="1096">*</text><text x="370.2" y="1096.7">*</text><text x="389.7" y="1097.7">*</text><text x="409.3" y="1097.7">*</text>
</g>
<g font-size="10" text-anchor="middle" fill="#555">
<text x="429" y="1094.7">ns</text><text x="448.4" y="1094.7">ns</text><text x="468" y="1092">ns</text><text x="487.5" y="1095.7">ns</text><text x="507" y="1099.7">ns</text>
<text x="116" y="1100.7">ns</text><text x="135.6" y="1105.7">ns</text><text x="155.1" y="1105.7">ns</text><text x="174.7" y="1103">ns</text><text x="194.2" y="1103">ns</text><text x="213.8" y="1103">ns</text><text x="233.3" y="1103">ns</text><text x="252.9" y="1103">ns</text><text x="272.4" y="1103">ns</text><text x="292" y="1103">ns</text><text x="311.5" y="1104">ns</text>
<text x="336.7" y="1118.7">ns</text><text x="356.7" y="1119.7">ns</text><text x="375.7" y="1123">ns</text><text x="395.7" y="1126">ns</text><text x="415" y="1130">ns</text>
<text x="429" y="1179.7">ns</text><text x="448.4" y="1186">ns</text><text x="468" y="1188.7">ns</text><text x="487.5" y="1193">ns</text><text x="507" y="1193">ns</text>
</g>

<!-- ================= I ================= -->
<text x="553" y="993" class="lbl">I</text>
<path d="M612,1020V1228.5M627,1230.5H1040" stroke="#222" stroke-width="1.8" fill="none"/>
<path d="M607,1020.2h5M607,1061.8h5M607,1103.4h5M607,1145h5M607,1186.6h5M607,1228.2h5M628,1230.5v6M725.9,1230.5v6M823.7,1230.5v6M921.6,1230.5v6M1019.4,1230.5v6M647.6,1230.5v3M667.1,1230.5v3M686.7,1230.5v3M706.3,1230.5v3M745.4,1230.5v3M765,1230.5v3M784.6,1230.5v3M804.1,1230.5v3M843.3,1230.5v3M862.8,1230.5v3M882.4,1230.5v3M902,1230.5v3M941.1,1230.5v3M960.7,1230.5v3M980.3,1230.5v3M999.8,1230.5v3" stroke="#222" stroke-width="1.4"/>
<g font-size="13" text-anchor="end" fill="#333"><text x="604" y="1024.7">1.3</text><text x="604" y="1066.3">1.2</text><text x="604" y="1107.9">1.1</text><text x="604" y="1149.5">1.0</text><text x="604" y="1191.1">0.9</text><text x="604" y="1232.7">0.8</text></g>
<g font-size="13" text-anchor="middle" fill="#333"><text x="628" y="1249.5">0</text><text x="725.9" y="1249.5">25</text><text x="823.7" y="1249.5">50</text><text x="921.6" y="1249.5">75</text><text x="1019.4" y="1249.5">100</text></g>
<text x="833" y="1267.5" font-size="13" text-anchor="middle" fill="#333" textLength="255" lengthAdjust="spacingAndGlyphs">Distance from oocyte nuclear center (pixels)</text>
<text transform="translate(561,1117) rotate(-90)" font-size="12.5" text-anchor="middle" fill="#333" textLength="163" lengthAdjust="spacingAndGlyphs">FLAG fluorescence intensity</text>
<text transform="translate(578,1117) rotate(-90)" font-size="12.5" text-anchor="middle" fill="#333" textLength="185" lengthAdjust="spacingAndGlyphs">(fold change vs. negative control)</text>
<!-- legend I -->
<path d="M770,1018H784" stroke="#111" stroke-width="1.5"/><circle cx="777" cy="1018" r="4.5" fill="#111"/>
<text x="793" y="1022.5" font-size="13" font-style="italic" fill="#222">Neg ctrl</text>
<path d="M868,1018H885" stroke="#c46ae6" stroke-width="1.5"/><circle cx="877" cy="1018" r="4.5" fill="#a832d8"/>
<text x="890" y="1022.5" font-size="13" font-style="italic" fill="#222">EV</text>
<path d="M930,1018H946" stroke="#7fdada" stroke-width="1.5"/><circle cx="938" cy="1018" r="4.5" fill="#35c8c8"/>
<text x="957" y="1022.5" font-size="13" font-style="italic" fill="#222">vits RNAi</text>
<!-- error bars I -->
<path d="M628,1025.6V1043.6M647.6,1024.8V1042.8M667.1,1027.7V1045.7M686.7,1031.8V1049.8M706.3,1031.8V1049.8M725.9,1036V1054M745.4,1039.3V1057.3M765,1040.6V1058.6M784.6,1046.4V1064.4M804.1,1053.9V1071.9M823.7,1062.2V1080.2M843.3,1068.4V1086.4M862.8,1073.4V1091.4M882.4,1075.5V1093.5M902,1075.5V1093.5M921.6,1076.8V1094.8M941.1,1076.7V1100.7M960.7,1084V1108M980.3,1090V1115M999.8,1098V1128M1019.4,1106V1147" stroke="#e6b0ef" stroke-width="1.2"/>
<path d="M628,1065.4V1089.4M647.6,1064.2V1088.2M667.1,1064.2V1088.2M686.7,1064.6V1088.6M706.3,1065.4V1089.4M725.9,1065.4V1089.4M745.4,1065.4V1089.4M765,1065.4V1089.4M784.6,1066.3V1090.3M804.1,1068.8V1092.8M823.7,1070.8V1094.8M843.3,1072.9V1096.9M862.8,1075.8V1099.8M882.4,1080V1104M902,1085V1109M921.6,1089.5V1119.5M941.1,1090.7V1120.7M960.7,1091.6V1121.6M980.3,1095.7V1125.7M999.8,1103.2V1133.2M1019.4,1115.3V1145.3" stroke="#a0e2e2" stroke-width="1.2"/>
<path d="M628,1137V1151M647.6,1137V1151M667.1,1137V1151M686.7,1137V1151M706.3,1137V1151M725.9,1137V1151M745.4,1137V1151M765,1137V1151M784.6,1137V1151M804.1,1137V1151M823.7,1137V1151M843.3,1137V1151M862.8,1137V1151M882.4,1137V1151M902,1137V1151M921.6,1137V1151M941.1,1137V1151M960.7,1137V1151M980.3,1137V1151M999.8,1137V1151M1019.4,1137V1151" stroke="#555" stroke-width="1"/>
<!-- lines I -->
<path d="M628,1144H1019.4" stroke="#111" stroke-width="1.5"/>
<polyline fill="none" stroke="#c46ae6" stroke-width="1.6" points="628,1034.6 647.6,1033.8 667.1,1036.7 686.7,1040.8 706.3,1040.8 725.9,1045 745.4,1048.3 765,1049.6 784.6,1055.4 804.1,1062.9 823.7,1071.2 843.3,1077.4 862.8,1082.4 882.4,1084.5 902,1084.5 921.6,1085.8 941.1,1088.7 960.7,1096.2 980.3,1102.4 999.8,1112.8 1019.4,1126.5"/>
<polyline fill="none" stroke="#7fdada" stroke-width="1.6" points="628,1077.4 647.6,1076.2 667.1,1076.2 686.7,1076.6 706.3,1077.4 725.9,1077.4 745.4,1077.4 765,1077.4 784.6,1078.3 804.1,1080.8 823.7,1082.8 843.3,1084.9 862.8,1087.8 882.4,1092 902,1097 921.6,1104.5 941.1,1105.7 960.7,1106.6 980.3,1110.7 999.8,1118.2 1019.4,1130.3"/>
<!-- markers I -->
<g fill="#111"><circle cx="628" cy="1144" r="4.5"/><circle cx="647.6" cy="1144" r="4.5"/><circle cx="667.1" cy="1144" r="4.5"/><circle cx="686.7" cy="1144" r="4.5"/><circle cx="706.3" cy="1144" r="4.5"/><circle cx="725.9" cy="1144" r="4.5"/><circle cx="745.4" cy="1144" r="4.5"/><circle cx="765" cy="1144" r="4.5"/><circle cx="784.6" cy="1144" r="4.5"/><circle cx="804.1" cy="1144" r="4.5"/><circle cx="823.7" cy="1144" r="4.5"/><circle cx="843.3" cy="1144" r="4.5"/><circle cx="862.8" cy="1144" r="4.5"/><circle cx="882.4" cy="1144" r="4.5"/><circle cx="902" cy="1144" r="4.5"/><circle cx="921.6" cy="1144" r="4.5"/><circle cx="941.1" cy="1144" r="4.5"/><circle cx="960.7" cy="1144" r="4.5"/><circle cx="980.3" cy="1144" r="4.5"/><circle cx="999.8" cy="1144" r="4.5"/><circle cx="1019.4" cy="1144" r="4.5"/></g>
<g fill="#35c8c8"><circle cx="628" cy="1077.4" r="5"/><circle cx="647.6" cy="1076.2" r="5"/><circle cx="667.1" cy="1076.2" r="5"/><circle cx="686.7" cy="1076.6" r="5"/><circle cx="706.3" cy="1077.4" r="5"/><circle cx="725.9" cy="1077.4" r="5"/><circle cx="745.4" cy="1077.4" r="5"/></g>
<g fill="#a832d8"><circle cx="628" cy="1034.6" r="5"/><circle cx="647.6" cy="1033.8" r="5"/><circle cx="667.1" cy="1036.7" r="5"/><circle cx="686.7" cy="1040.8" r="5"/><circle cx="706.3" cy="1040.8" r="5"/><circle cx="725.9" cy="1045" r="5"/><circle cx="745.4" cy="1048.3" r="5"/></g>
<g fill="#a3a0a6"><circle cx="765" cy="1077.4" r="5"/><circle cx="784.6" cy="1078.3" r="5"/><circle cx="804.1" cy="1080.8" r="5"/><circle cx="823.7" cy="1082.8" r="5"/><circle cx="843.3" cy="1084.9" r="5"/><circle cx="862.8" cy="1087.8" r="5"/><circle cx="882.4" cy="1092" r="5"/><circle cx="902" cy="1097" r="5"/><circle cx="921.6" cy="1104.5" r="5"/><circle cx="941.1" cy="1105.7" r="5"/><circle cx="960.7" cy="1106.6" r="5"/><circle cx="980.3" cy="1110.7" r="5"/><circle cx="999.8" cy="1118.2" r="5"/><circle cx="1019.4" cy="1130.3" r="5"/>
<circle cx="765" cy="1049.6" r="5"/><circle cx="784.6" cy="1055.4" r="5"/><circle cx="804.1" cy="1062.9" r="5"/><circle cx="823.7" cy="1071.2" r="5"/><circle cx="843.3" cy="1077.4" r="5"/><circle cx="862.8" cy="1082.4" r="5"/><circle cx="882.4" cy="1084.5" r="5"/><circle cx="902" cy="1084.5" r="5"/><circle cx="921.6" cy="1085.8" r="5"/><circle cx="941.1" cy="1088.7" r="5"/><circle cx="960.7" cy="1096.2" r="5"/><circle cx="980.3" cy="1102.4" r="5"/><circle cx="999.8" cy="1112.8" r="5"/><circle cx="1019.4" cy="1126.5" r="5"/></g>
<!-- sig I -->
<g font-size="11" text-anchor="middle" fill="#333">
<text x="628" y="1028.7">***</text><text x="647.6" y="1027.7">***</text><text x="667.1" y="1035">***</text><text x="686.7" y="1036.7">***</text><text x="706.3" y="1036.7">***</text><text x="725.9" y="1038.7">***</text><text x="745.4" y="1042.7">***</text><text x="765" y="1044">***</text><text x="784.6" y="1048.7">***</text><text x="804.1" y="1057">***</text><text x="823.7" y="1065">***</text><text x="843.3" y="1072.7">***</text><text x="862.8" y="1078.7">***</text><text x="882.4" y="1081">***</text><text x="902" y="1081">***</text><text x="921.6" y="1082.7">***</text><text x="941.1" y="1083.3">**</text><text x="960.7" y="1086">*</text><text x="980.3" y="1090">*</text>
<text x="628" y="1102">**</text><text x="647.6" y="1102">**</text><text x="667.1" y="1102">**</text><text x="686.7" y="1102">**</text><text x="706.3" y="1103">**</text><text x="725.9" y="1103">**</text><text x="745.4" y="1102.5">**</text><text x="765" y="1102">**</text><text x="784.6" y="1102">**</text><text x="804.1" y="1103">**</text><text x="823.7" y="1103.7">*</text><text x="843.3" y="1107">*</text><text x="862.8" y="1110.3">*</text>
</g>
<g font-size="10" text-anchor="middle" fill="#555">
<text x="999.8" y="1095.7">ns</text><text x="1019.4" y="1107">ns</text>
<text x="882.4" y="1110.3">ns</text><text x="902" y="1115.7">ns</text><text x="921.6" y="1124.7">ns</text><text x="941.1" y="1126.3">ns</text><text x="960.7" y="1128">ns</text><text x="980.3" y="1130.7">ns</text><text x="999.8" y="1137">ns</text><text x="1019.4" y="1159.7">ns</text>
</g>

<!-- ================= caption ================= -->
<g font-family="Liberation Sans, Noto Sans CJK SC, sans-serif" font-size="40" fill="#8a8a8a" text-anchor="middle">
<text x="540" y="1347" textLength="1010" lengthAdjust="spacing">肠道特异性HIS-71及其向生殖细胞的运输对跨代长寿的</text>
<text x="540" y="1408">贡献</text>
</g>
</svg>
</body></html>
